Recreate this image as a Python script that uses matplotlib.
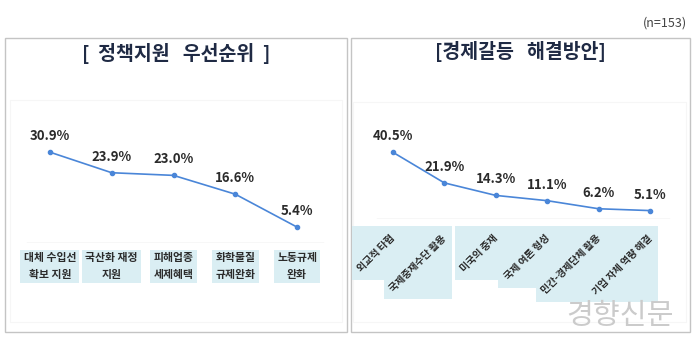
import matplotlib
matplotlib.use("Agg")
import matplotlib.pyplot as plt
from matplotlib.patches import Rectangle

plt.rcParams['font.family'] = ['Noto Sans CJK KR', 'DejaVu Sans']

# data
left_title = "[  정책지원   우선순위  ]"
left_cats = ["대체 수입선\n확보 지원", "국산화 재정\n지원", "피해업종\n세제혜택", "화학물질\n규제완화", "노동규제\n완화"]
left_vals = [30.9, 23.9, 23.0, 16.6, 5.4]

right_title = "[경제갈등   해결방안]"
right_cats = ["외교적 타협", "국제중재수단 활용", "미국의 중재", "국제 여론 형성", "민간-경제단체 활용", "기업 자체 역량 해결"]
right_vals = [40.5, 21.9, 14.3, 11.1, 6.2, 5.1]

W, H = 700, 353
LINE = '#4a86d8'
BOX = '#daeef3'
TXT = '#2b2b2b'


def box(x0, y0, x1, y1):
    # pixel box (top-left origin) -> figure fraction
    return [x0 / W, 1 - y1 / H, (x1 - x0) / W, (y1 - y0) / H]


fig = plt.figure(figsize=(W / 100, H / 100), dpi=100)
fig.patch.set_facecolor('white')

# panel frames
for x0, x1 in [(5, 347), (351, 690)]:
    b = box(x0, 38, x1, 332)
    fig.patches.append(Rectangle((b[0], b[1]), b[2], b[3], transform=fig.transFigure,
                                 fill=False, ec='#c4c4c4', lw=1.0, zorder=-2))
# faint plot-area frames
for x0, x1, y0 in [(10, 342, 100), (353, 686, 102)]:
    b = box(x0, y0, x1, 322)
    fig.patches.append(Rectangle((b[0], b[1]), b[2], b[3], transform=fig.transFigure,
                                 fill=False, ec='#f6f6f6', lw=0.8, zorder=-2))

fig.text(687 / W, 1 - 23 / H, "(n=153)", fontsize=9, color='#444444', ha='right', va='center')
fig.text(176 / W, 1 - 53 / H, left_title, fontsize=14, fontweight='bold', color='#1f2a44',
         ha='center', va='center')
fig.text(520 / W, 1 - 52 / H, right_title, fontsize=14, fontweight='bold', color='#1f2a44',
         ha='center', va='center')


def draw_line(ax, vals):
    xs = list(range(len(vals)))
    ax.plot(xs, vals, color=LINE, lw=1.2, marker='o', ms=3, zorder=3, clip_on=False)
    for x, v in zip(xs, vals):
        ax.annotate(f"{v:.1f}%", (x, v), xytext=(0, 16), textcoords='offset pixels',
                    ha='center', va='center', fontsize=9.5, fontweight='bold', color=TXT)
    ax.set_facecolor('none')
    for s in ax.spines.values():
        s.set_visible(False)
    ax.set_xticks([])
    ax.set_yticks([])


# left chart
axl = fig.add_axes(box(19, 100, 328, 243))
axl.set_xlim(-0.5, 4.5)
axl.set_ylim(0, 143 / 2.94)
axl.axhline(0, xmin=0.026, xmax=0.984, color='#d9d9d9', lw=1.0)
draw_line(axl, left_vals)
for i, c in enumerate(left_cats):
    axl.annotate(c, (i, 0), xycoords=('data', 'axes fraction'), xytext=(0, -10),
                 textcoords='offset pixels', ha='center', va='top', fontsize=7.8,
                 fontweight='bold', color=TXT, linespacing=1.85,
                 bbox=dict(boxstyle='square,pad=0.3', fc=BOX, ec='none'))

# right chart
axr = fig.add_axes(box(367, 102, 676, 219))
axr.set_xlim(-0.5, 5.5)
axr.set_ylim(0, 117 / 1.65)
axr.axhline(0, xmin=0.032, xmax=0.977, color='#d9d9d9', lw=1.0)
draw_line(axr, right_vals)
rlabels = []
for i, c in enumerate(right_cats):
    t = axr.annotate(c, (i, 0), xycoords=('data', 'axes fraction'), xytext=(4, -14),
                     textcoords='offset pixels', ha='right', va='top', rotation=45,
                     fontsize=7.2, fontweight='bold', color=TXT)
    rlabels.append(t)

fig.canvas.draw()
renderer = fig.canvas.get_renderer()
inv = fig.transFigure.inverted()
for t in rlabels:
    bb = t.get_window_extent(renderer)
    (fx0, fy0), (fx1, fy1) = inv.transform([(bb.x0 - 4, bb.y0 - 6), (bb.x1 + 4, bb.y1 + 7)])
    fig.patches.append(Rectangle((fx0, fy0), fx1 - fx0, fy1 - fy0, transform=fig.transFigure,
                                 fc=BOX, ec='none', zorder=-1))

# watermark
fig.text(620 / W, 1 - 316 / H, "경향신문", fontsize=21, color='#cbcbcb', ha='center', va='center')

fig.savefig("out.png", dpi=100)
